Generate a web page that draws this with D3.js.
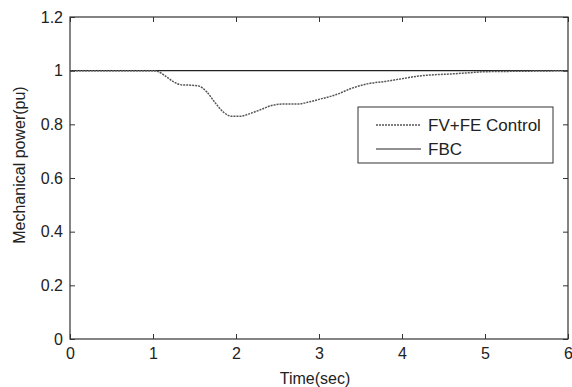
<!DOCTYPE html>
<html>
<head>
<meta charset="utf-8">
<script src="https://cdn.jsdelivr.net/npm/d3@7"></script>
<style>
  body { margin: 0; background: #fff; }
  text { font-family: "Liberation Sans", Arial, sans-serif; fill: #222; }
</style>
</head>
<body>
<svg id="chart" width="572" height="387"></svg>
<script>
// data
const timeFv = [0, 0.5, 1.0, 1.05, 1.15, 1.25, 1.35, 1.45, 1.55, 1.65, 1.75, 1.85, 1.95, 2.05, 2.15, 2.3, 2.45, 2.6, 2.75, 2.9, 3.0, 3.2, 3.4, 3.6, 3.8, 4.0, 4.2, 4.4, 4.6, 4.8, 5.0, 5.5, 6.0];
const powerFv = [1.0, 1.0, 1.0, 0.998, 0.98, 0.958, 0.947, 0.946, 0.943, 0.92, 0.88, 0.845, 0.83, 0.83, 0.838, 0.855, 0.872, 0.876, 0.876, 0.885, 0.893, 0.91, 0.935, 0.952, 0.96, 0.97, 0.98, 0.985, 0.988, 0.992, 0.996, 0.998, 1.0];
const timeFbc = [0, 6];
const powerFbc = [1, 1];
const xTicks = [0, 1, 2, 3, 4, 5, 6];
const yTicks = [0, 0.2, 0.4, 0.6, 0.8, 1, 1.2];
const legendLabels = ["FV+FE Control", "FBC"];

const svg = d3.select("#chart");
const mLeft = 70, mRight = 568, mTop = 17, mBottom = 339;

const x = d3.scaleLinear().domain([0, 6]).range([mLeft, mRight]);
const y = d3.scaleLinear().domain([0, 1.2]).range([mBottom, mTop]);

const line = d3.line()
  .x(d => x(d[0]))
  .y(d => y(d[1]))
  .curve(d3.curveMonotoneX);

// fbc solid line
svg.append("path")
  .datum(d3.zip(timeFbc, powerFbc))
  .attr("d", line)
  .attr("fill", "none")
  .attr("stroke", "#222")
  .attr("stroke-width", 1.2);

// fv+fe dashed line
svg.append("path")
  .datum(d3.zip(timeFv, powerFv))
  .attr("d", line)
  .attr("fill", "none")
  .attr("stroke", "#555")
  .attr("stroke-width", 1.5)
  .attr("stroke-dasharray", "2,1");

// axes with inward ticks, matlab style
const tick = 5;
svg.append("g")
  .attr("transform", `translate(0,${mBottom})`)
  .call(d3.axisBottom(x).tickValues(xTicks).tickSizeInner(-tick).tickSizeOuter(0).tickPadding(9).tickFormat(d3.format("d")))
  .call(g => g.select(".domain").remove());
svg.append("g")
  .attr("transform", `translate(0,${mTop})`)
  .call(d3.axisTop(x).tickValues(xTicks).tickSizeInner(-tick).tickSizeOuter(0).tickFormat(""))
  .call(g => g.select(".domain").remove());
svg.append("g")
  .attr("transform", `translate(${mLeft},0)`)
  .call(d3.axisLeft(y).tickValues(yTicks).tickSizeInner(-tick).tickSizeOuter(0).tickPadding(7).tickFormat(d => String(d)))
  .call(g => g.select(".domain").remove());
svg.append("g")
  .attr("transform", `translate(${mRight},0)`)
  .call(d3.axisRight(y).tickValues(yTicks).tickSizeInner(-tick).tickSizeOuter(0).tickFormat(""))
  .call(g => g.select(".domain").remove());

svg.selectAll(".tick line").attr("stroke", "#333");
svg.selectAll(".tick text")
  .attr("font-size", 16)
  .attr("fill", "#222")
  .attr("font-family", "'Liberation Sans', Arial, sans-serif");

svg.append("rect")
  .attr("x", mLeft).attr("y", mTop)
  .attr("width", mRight - mLeft).attr("height", mBottom - mTop)
  .attr("fill", "none")
  .attr("stroke", "#333")
  .attr("stroke-width", 1.2);

// axis titles
svg.append("text")
  .attr("x", 315)
  .attr("y", 384)
  .attr("text-anchor", "middle")
  .attr("font-size", 16)
  .text("Time(sec)");

svg.append("text")
  .attr("transform", "translate(25,165) rotate(-90)")
  .attr("text-anchor", "middle")
  .attr("font-size", 16)
  .text("Mechanical power(pu)");

// legend
const lg = svg.append("g").attr("transform", "translate(358,107)");
lg.append("rect")
  .attr("width", 195).attr("height", 56)
  .attr("fill", "#fff")
  .attr("stroke", "#333")
  .attr("stroke-width", 1);
const dashes = ["2,1", null];
const colors = ["#555", "#222"];
legendLabels.forEach((lab, i) => {
  const yy = 18 + i * 24;
  lg.append("line")
    .attr("x1", 18).attr("x2", 63)
    .attr("y1", yy).attr("y2", yy)
    .attr("stroke", colors[i])
    .attr("stroke-width", i === 0 ? 1.5 : 1.2)
    .attr("stroke-dasharray", dashes[i]);
  lg.append("text")
    .attr("x", 70).attr("y", yy + 5.5)
    .attr("font-size", 17)
    .text(lab);
});
</script>
</body>
</html>
